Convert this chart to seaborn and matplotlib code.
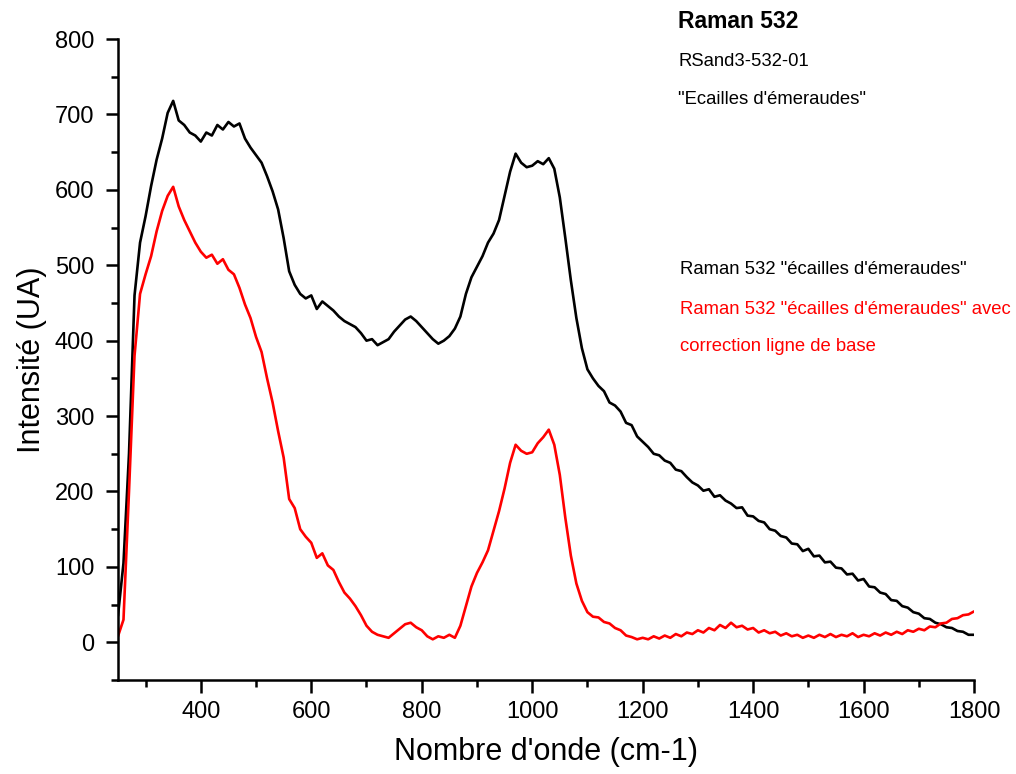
import matplotlib
matplotlib.use("Agg")
import matplotlib.pyplot as plt
from matplotlib.ticker import MultipleLocator
import seaborn as sns
import pandas as pd

# nombre d'onde (cm-1), pas de 10
wavenumber = list(range(250, 1801, 10))

# Raman 532 "écailles d'émeraudes" (brut)
raw = [35, 105, 250, 460, 530, 565, 605, 640, 668, 702,
       718, 692, 686, 676, 672, 664, 676, 672, 686, 680,
       690, 684, 688, 668, 656, 646, 636, 618, 598, 574,
       536, 492, 474, 462, 456, 460, 442, 452, 446, 440,
       432, 426, 422, 418, 410, 400, 402, 394, 398, 402,
       412, 420, 428, 432, 426, 418, 410, 402, 396, 400,
       406, 416, 432, 462, 484, 498, 512, 530, 542, 560,
       592, 624, 648, 636, 630, 632, 638, 634, 642, 628,
       590, 536, 480, 430, 390, 362, 350, 340, 333, 318,
       314, 306, 291, 288, 273, 266, 259, 250, 248, 241,
       238, 229, 227, 219, 212, 208, 201, 203, 193, 195,
       188, 184, 178, 179, 168, 167, 161, 159, 150, 148,
       141, 139, 131, 130, 121, 124, 114, 115, 106, 107,
       99, 98, 90, 91, 82, 84, 74, 73, 66, 64,
       56, 55, 48, 46, 40, 38, 32, 31, 26, 24,
       20, 19, 15, 14, 10, 10]

# avec correction ligne de base
corrected = [8, 30, 200, 380, 462, 488, 512, 545, 572, 592,
             604, 578, 560, 545, 530, 518, 510, 514, 502, 508,
             494, 488, 470, 448, 430, 405, 385, 350, 318, 280,
             245, 190, 178, 150, 140, 132, 112, 118, 102, 96,
             80, 66, 58, 48, 36, 22, 14, 10, 8, 6,
             12, 18, 24, 26, 20, 16, 8, 4, 8, 6,
             10, 6, 22, 48, 74, 92, 106, 122, 148, 174,
             204, 238, 262, 254, 250, 252, 264, 272, 282, 262,
             222, 165, 115, 78, 55, 40, 34, 33, 27, 25,
             19, 16, 9, 7, 4, 6, 4, 8, 5, 9,
             6, 11, 8, 13, 11, 16, 13, 19, 16, 23,
             19, 26, 20, 22, 17, 19, 13, 16, 12, 14,
             9, 12, 8, 10, 6, 9, 6, 10, 7, 11,
             7, 10, 8, 12, 7, 10, 8, 12, 9, 13,
             10, 14, 11, 16, 14, 18, 16, 21, 20, 25,
             26, 31, 32, 36, 37, 41]

df = pd.DataFrame({"x": wavenumber, "brut": raw, "corrige": corrected})

sns.set_theme(style="ticks")
plt.rcParams["font.family"] = ["Liberation Sans", "DejaVu Sans"]
plt.rcParams["text.color"] = "black"
plt.rcParams["axes.labelcolor"] = "black"

fig = plt.figure(figsize=(10.16, 7.74), dpi=100)
ax = fig.add_axes([0.1161, 0.1214, 0.8426, 0.8282])

sns.lineplot(data=df, x="x", y="brut", color="black", lw=1.9, ax=ax)
sns.lineplot(data=df, x="x", y="corrige", color="#ff0000", lw=1.9, ax=ax)

ax.set_xlim(250, 1800)
ax.set_ylim(-50, 800)
ax.yaxis.set_major_locator(MultipleLocator(100))
ax.yaxis.set_minor_locator(MultipleLocator(50))
ax.set_xticks(range(400, 1801, 200))
ax.set_xticks(range(300, 1800, 200), minor=True)

sns.despine(ax=ax)
for s in ["left", "bottom"]:
    ax.spines[s].set_linewidth(1.8)
    ax.spines[s].set_color("black")
ax.tick_params(which="major", length=9, width=1.8, labelsize=17, colors="black")
ax.tick_params(which="minor", length=5, width=1.8, colors="black")
ax.tick_params(axis="x", which="major", pad=6)
ax.tick_params(axis="y", which="major", pad=8)

ax.set_xlabel("Nombre d'onde (cm-1)", fontsize=22, labelpad=10)
ax.set_ylabel("Intensité (UA)", fontsize=22, labelpad=6)

fig.text(678 / 1016, 1 - 22 / 774, "Raman 532", fontsize=16.5, fontweight="bold", va="center")
fig.text(678 / 1016, 1 - 62 / 774, "RSand3-532-01", fontsize=13.3, va="center")
fig.text(678 / 1016, 1 - 100 / 774, "\"Ecailles d'émeraudes\"", fontsize=13.3, va="center")

fig.text(680 / 1016, 1 - 270 / 774, "Raman 532 \"écailles d'émeraudes\"", fontsize=13.3,
         color="black", va="center")
fig.text(680 / 1016, 1 - 309 / 774, "Raman 532 \"écailles d'émeraudes\" avec", fontsize=13.3,
         color="#ff0000", va="center")
fig.text(680 / 1016, 1 - 346 / 774, "correction ligne de base", fontsize=13.3,
         color="#ff0000", va="center")

fig.savefig("out.png", dpi=100)
